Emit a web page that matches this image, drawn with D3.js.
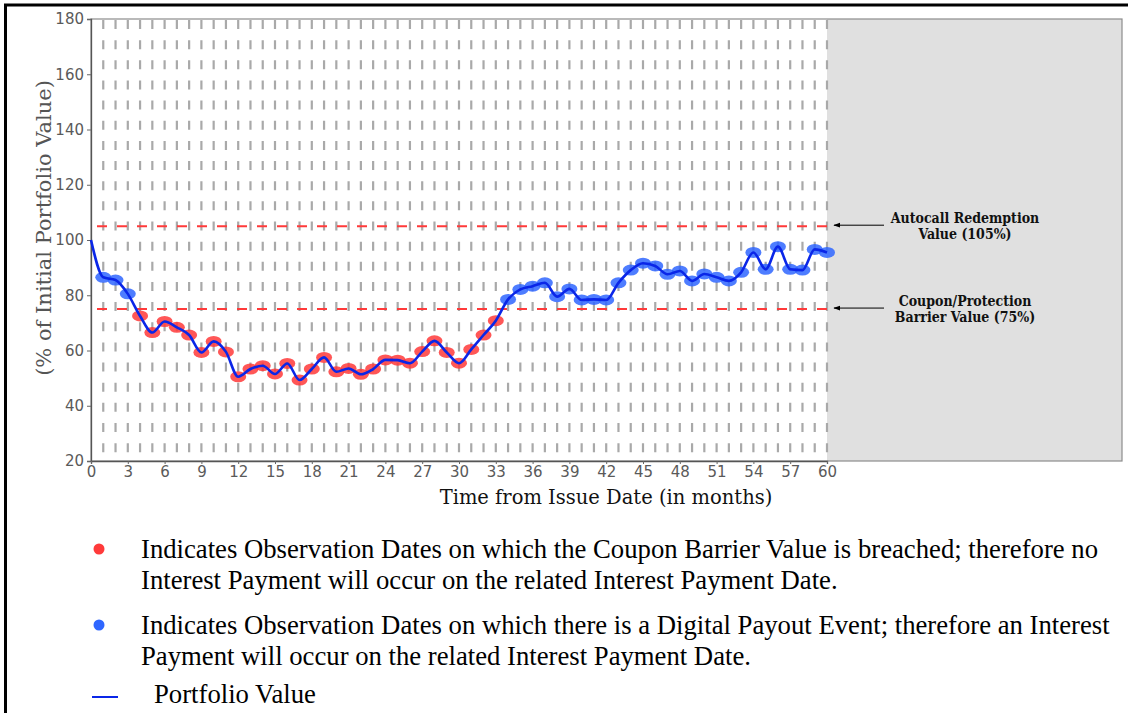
<!DOCTYPE html>
<html>
<head>
<meta charset="utf-8">
<script src="https://cdn.jsdelivr.net/npm/d3@7.9.0/dist/d3.min.js"></script>
<style>
  html, body { margin: 0; padding: 0; background: #fff; }
  svg { display: block; }
</style>
</head>
<body>
<div id="chart"></div>
<script>
// portfolio value (% of initial) at each month, index = month
const portfolioValues = [
  100, 86.5, 85.5, 80.5, 72.5, 66.5, 70.5, 68.4, 65.6, 59.3,
  63.3, 59.5, 50.5, 53.3, 54.5, 51.5, 55.3, 49.3, 53.3, 57.5,
  52.3, 53.5, 51.4, 53.3, 56.6, 56.5, 55.4, 59.6, 63.5, 59.3,
  55.4, 60.4, 65.6, 70.8, 78.5, 82.1, 83.3, 84.5, 79.5, 82.3,
  78.3, 78.5, 78.3, 84.5, 89.1, 91.6, 90.6, 87.6, 88.8, 85.2,
  87.7, 86.5, 85.2, 88.3, 95.5, 89.4, 97.6, 89.4, 89.1, 96.6,
  95.5
];
const xTicks = [0, 3, 6, 9, 12, 15, 18, 21, 24, 27, 30, 33, 36, 39, 42, 45, 48, 51, 54, 57, 60];
const yTicks = [20, 40, 60, 80, 100, 120, 140, 160, 180];
const barriers = [
  { value: 105, lines: ['Autocall Redemption', 'Value (105%)'] },
  { value: 75, lines: ['Coupon/Protection', 'Barrier Value (75%)'] }
];
const couponBarrier = 75;
const termMonths = 60;
const legendItems = [
  { kind: 'red', lines: ['Indicates Observation Dates on which the Coupon Barrier Value is breached; therefore no',
                        'Interest Payment will occur on the related Interest Payment Date.'] },
  { kind: 'blue', lines: ['Indicates Observation Dates on which there is a Digital Payout Event; therefore an Interest',
                         'Payment will occur on the related Interest Payment Date.'] },
  { kind: 'line', lines: ['Portfolio Value'] }
];

const width = 1128;
const height = 713;
const plot = { left: 91, right: 1122, top: 19, bottom: 461 };

const RED = '#ff3a3a';
const BLUE = '#2f66ff';
const LINE_BLUE = '#0a26e8';

const data = portfolioValues.map((v, i) => ({ month: i, value: v }));

const svg = d3.select('#chart')
  .append('svg')
  .attr('width', width)
  .attr('height', height);

const xScale = d3.scaleLinear().domain([0, termMonths]).range([plot.left, 827]);
const yScale = d3.scaleLinear().domain([20, 180]).range([plot.bottom, plot.top]);

// outer frame (top + left only)
svg.append('path')
  .attr('d', `M5.5,${height} L5.5,5 L${width},5`)
  .attr('fill', 'none')
  .attr('stroke', '#000')
  .attr('stroke-width', 3);

// grey area after maturity
svg.append('rect')
  .attr('x', xScale(termMonths))
  .attr('y', plot.top)
  .attr('width', plot.right - xScale(termMonths))
  .attr('height', plot.bottom - plot.top)
  .attr('fill', '#e0e0e0');

// plot border
svg.append('rect')
  .attr('x', plot.left)
  .attr('y', plot.top)
  .attr('width', plot.right - plot.left)
  .attr('height', plot.bottom - plot.top)
  .attr('fill', 'none')
  .attr('stroke', '#8c8c8c')
  .attr('stroke-width', 1.2);

// monthly dashed gridlines
svg.append('g')
  .selectAll('line')
  .data(data.filter((d) => d.month > 0))
  .join('line')
  .attr('x1', (d) => xScale(d.month))
  .attr('x2', (d) => xScale(d.month))
  .attr('y1', plot.top + 1)
  .attr('y2', plot.bottom)
  .attr('stroke', '#a9a9a9')
  .attr('stroke-width', 2.2)
  .attr('stroke-dasharray', '9,11.15');

// barrier lines
svg.append('g')
  .selectAll('line')
  .data(barriers)
  .join('line')
  .attr('x1', plot.left)
  .attr('x2', xScale(termMonths))
  .attr('y1', (d) => yScale(d.value))
  .attr('y2', (d) => yScale(d.value))
  .attr('stroke', RED)
  .attr('stroke-width', 2)
  .attr('stroke-dasharray', '10,10')
  .attr('stroke-dashoffset', -6);

// axes
const yAxis = d3.axisLeft(yScale).tickValues(yTicks).tickSize(4).tickPadding(3);
const xAxis = d3.axisBottom(xScale).tickValues(xTicks).tickSize(3).tickPadding(2);

const yG = svg.append('g')
  .attr('transform', `translate(${plot.left},0)`)
  .call(yAxis);
const xG = svg.append('g')
  .attr('transform', `translate(0,${plot.bottom})`)
  .call(xAxis);

[xG, yG].forEach((g) => {
  g.select('.domain').attr('stroke', '#555').attr('stroke-width', 1.3);
  g.selectAll('.tick line').attr('stroke', '#666');
  g.selectAll('.tick text')
    .attr('fill', '#5a5a5a')
    .style('font-family', '"DejaVu Sans", sans-serif')
    .style('font-size', '15px');
});

// observation markers
svg.append('g')
  .selectAll('ellipse')
  .data(data.filter((d) => d.month > 0))
  .join('ellipse')
  .attr('cx', (d) => xScale(d.month))
  .attr('cy', (d) => yScale(d.value))
  .attr('rx', 8)
  .attr('ry', 5.5)
  .attr('fill', (d) => (d.value < couponBarrier ? RED : BLUE))
  .attr('fill-opacity', 0.85);

// portfolio value line
const line = d3.line()
  .x((d) => xScale(d.month))
  .y((d) => yScale(d.value))
  .curve(d3.curveMonotoneX);

svg.append('path')
  .datum(data)
  .attr('d', line)
  .attr('fill', 'none')
  .attr('stroke', LINE_BLUE)
  .attr('stroke-width', 2.6);

// axis titles
svg.append('text')
  .attr('x', 606)
  .attr('y', 504)
  .attr('text-anchor', 'middle')
  .style('font-family', '"DejaVu Serif", serif')
  .style('font-size', '19.5px')
  .attr('fill', '#111')
  .text('Time from Issue Date (in months)');

svg.append('text')
  .attr('transform', 'translate(51,228) rotate(-90)')
  .attr('text-anchor', 'middle')
  .style('font-family', '"DejaVu Serif", serif')
  .style('font-size', '21px')
  .attr('fill', '#555')
  .text('(% of Initial Portfolio Value)');

// barrier annotations with arrows
svg.append('defs')
  .append('marker')
  .attr('id', 'arrow')
  .attr('viewBox', '0 0 10 10')
  .attr('refX', 9)
  .attr('refY', 5)
  .attr('markerWidth', 7)
  .attr('markerHeight', 7)
  .attr('orient', 'auto')
  .append('path')
  .attr('d', 'M0,1.5 L10,5 L0,8.5 Z')
  .attr('fill', '#000');

const notes = svg.append('g')
  .selectAll('g')
  .data(barriers)
  .join('g');

notes.append('line')
  .attr('x1', 884)
  .attr('x2', 834)
  .attr('y1', (d) => yScale(d.value) - 1)
  .attr('y2', (d) => yScale(d.value) - 1)
  .attr('stroke', '#000')
  .attr('stroke-width', 1)
  .attr('marker-end', 'url(#arrow)');

notes.append('text')
  .attr('text-anchor', 'middle')
  .style('font-family', '"DejaVu Serif", serif')
  .style('font-size', '14px')
  .style('font-weight', 'bold')
  .style('font-stretch', 'condensed')
  .attr('fill', '#111')
  .selectAll('tspan')
  .data((d) => d.lines.map((t, i) => ({ t, i, y: yScale(d.value) })))
  .join('tspan')
  .attr('x', 965)
  .attr('y', (d) => d.y - 3 + d.i * 16)
  .text((d) => d.t);

// legend below the chart
const legendTop = [557.5, 633.5, 703];
const legend = svg.append('g')
  .style('font-family', '"Liberation Serif", "Times New Roman", serif')
  .style('font-size', '26.7px')
  .attr('fill', '#000');

legendItems.forEach((item, k) => {
  const y0 = legendTop[k];
  if (item.kind === 'line') {
    legend.append('line')
      .attr('x1', 92).attr('x2', 118)
      .attr('y1', y0 - 6).attr('y2', y0 - 6)
      .attr('stroke', LINE_BLUE)
      .attr('stroke-width', 2);
  } else {
    legend.append('circle')
      .attr('cx', 99)
      .attr('cy', y0 - 8.5)
      .attr('r', 5.5)
      .attr('fill', item.kind === 'red' ? RED : BLUE);
  }
  item.lines.forEach((t, i) => {
    legend.append('text')
      .attr('x', item.kind === 'line' ? 154 : 141)
      .attr('y', y0 + i * 31)
      .text(t);
  });
});
</script>
</body>
</html>
